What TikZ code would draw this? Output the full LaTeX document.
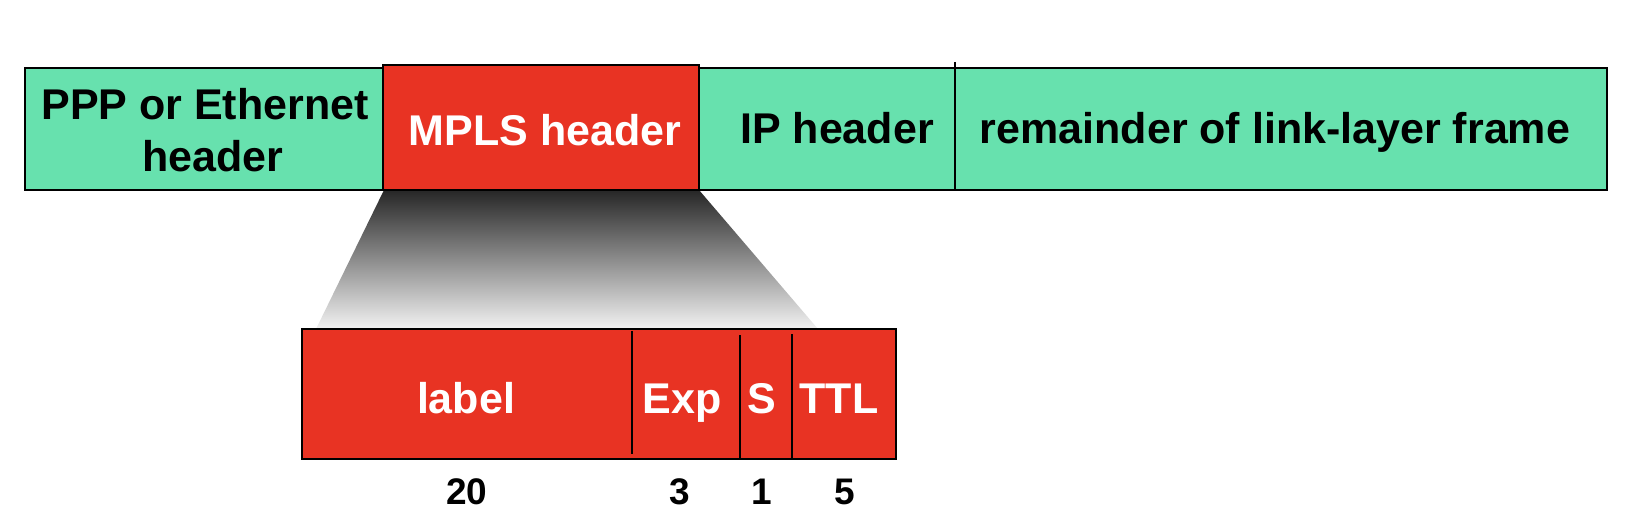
\documentclass[tikz,border=0pt]{standalone}
\usepackage{fontspec}
\setmainfont{Liberation Sans}
\definecolor{fgreen}{RGB}{103,225,174}
\definecolor{fred}{RGB}{232,51,35}
\begin{document}
\begin{tikzpicture}[x=1pt,y=-1pt,
  field/.style={draw=black, line width=2.5pt, inner sep=0pt, outer sep=0pt},
  gfield/.style={field, fill=fgreen},
  rfield/.style={field, fill=fred},
  big/.style={font=\fontsize{43}{52}\selectfont\bfseries, inner sep=0pt, anchor=base},
  wbig/.style={big, text=white},
  num/.style={font=\fontsize{37}{44}\selectfont\bfseries, inner sep=0pt, anchor=base},
  divider/.style={line width=1.8pt}]
\useasboundingbox (0,0) rectangle (1628,516);
% zoom shading
\shade[top color=black!85, bottom color=black!5] (384,190) -- (699,190) -- (818,329) -- (316,329) -- cycle;
% top frame
\node[gfield, minimum width=358pt, minimum height=122pt] (ppp) at (204,129) {};
\node[gfield, minimum width=256pt, minimum height=122pt] (ip) at (827,129) {};
\node[gfield, minimum width=652pt, minimum height=122pt] (rem) at (1281,129) {};
\node[rfield, minimum width=316pt, minimum height=125pt] (mpls) at (541,127.5) {};
\draw[divider] (955,62) -- (955,190);
% top texts
\node[font=\fontsize{43}{52}\selectfont\bfseries, inner sep=0pt, align=center] (ppptxt) at (205,130.5) {PPP or Ethernet\\\hspace*{16pt}header};
\node[wbig] (mplstxt) at (545,146) {MPLS header};
\node[big] (iptxt) at (837,143) {IP header};
\node[big] (remtxt) at (1275,143) {remainder of link-layer frame};
% lower box
\node[rfield, minimum width=594pt, minimum height=130pt] (lbox) at (599,394) {};
\draw[divider] (632,331) -- (632,454);
\draw[divider] (740,335) -- (740,459);
\draw[divider] (792,334) -- (792,459);
\node[wbig] (labeltxt) at (466,413) {label};
\node[wbig] (exptxt) at (682,413) {Exp};
\node[wbig] (stxt) at (762,413) {S};
\node[wbig] (ttltxt) at (839,413) {TTL};
% bit counts
\node[num] (n20) at (467,504) {20};
\node[num] (n3) at (680,504) {3};
\node[num] (n1) at (762,504) {1};
\node[num] (n5) at (845,504) {5};
\end{tikzpicture}
\end{document}
